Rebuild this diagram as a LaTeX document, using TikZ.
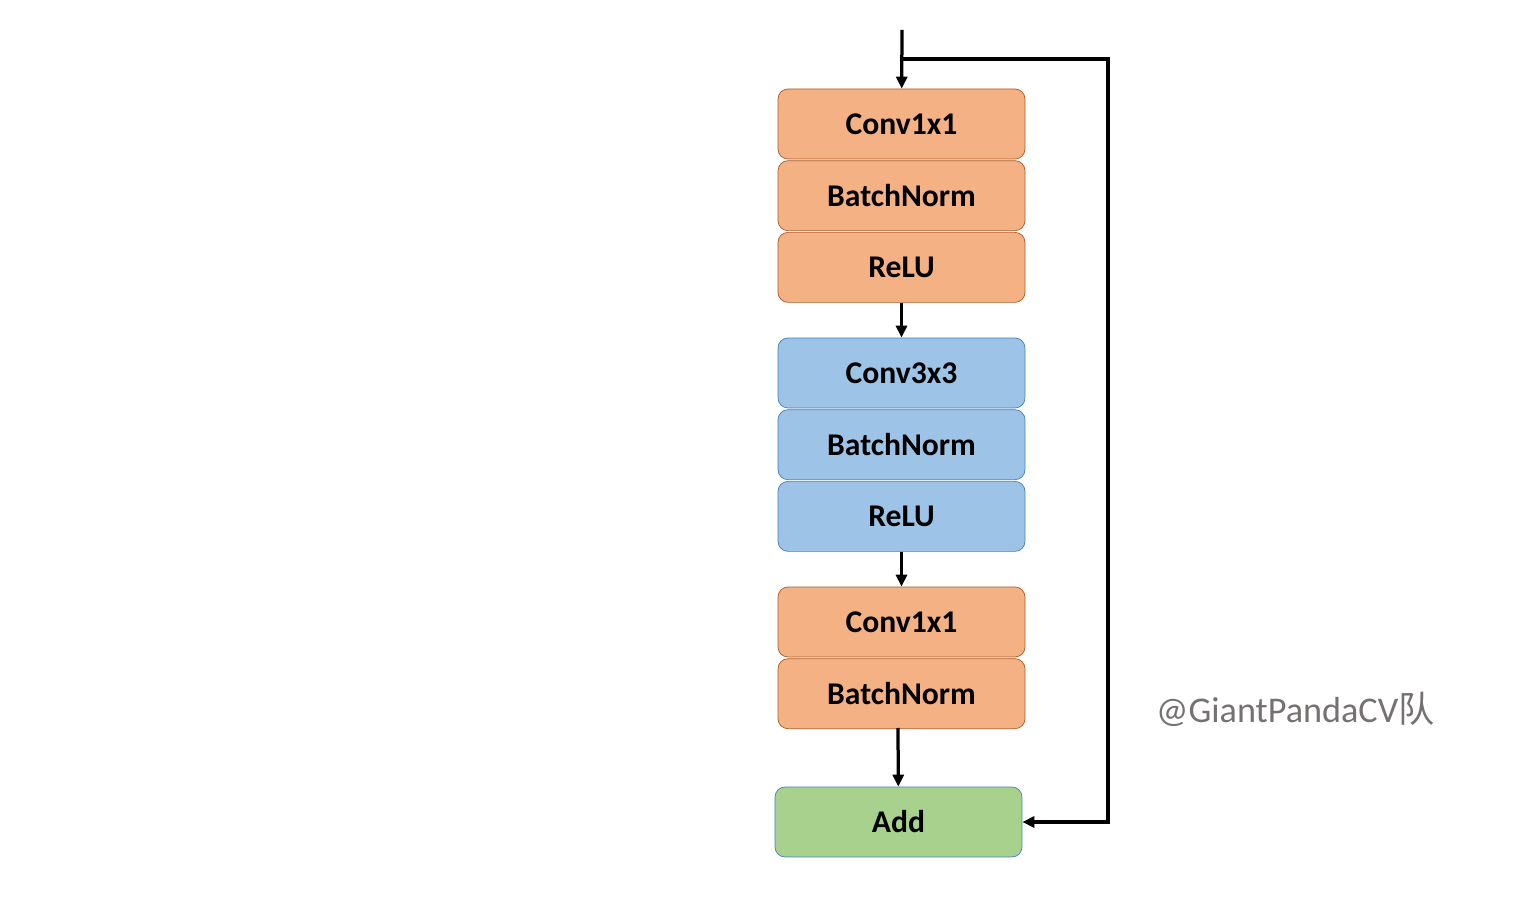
\documentclass[tikz,border=0pt]{standalone}
\usepackage{fontspec}
\setmainfont{Carlito}
\newfontfamily\cjkfont{Noto Sans CJK SC}
\usepackage{tikz}
\usetikzlibrary{
  arrows.meta,
  chains,
  positioning,
  scopes
}
\definecolor{orangefill}{HTML}{F4B183}
\definecolor{orangedraw}{HTML}{AE5A21}
\definecolor{bluefill}{HTML}{9DC3E6}
\definecolor{bluedraw}{HTML}{3F7FC0}
\definecolor{greenfill}{HTML}{A9D18E}
\definecolor{markgray}{HTML}{767171}

\begin{document}
\begin{tikzpicture}[
      x=0.02cm,y=-0.02cm,
      layer/.style={
         rectangle,
         rounded corners=0.2cm,
         minimum width=4.94cm,
         minimum height=1.4cm,
         inner sep=0pt,
         font=\fontsize{18}{20}\selectfont\bfseries,
      },
      orangelayer/.style={layer,fill=orangefill,draw=orangedraw},
      bluelayer/.style={layer,fill=bluefill,draw=bluedraw},
      greenlayer/.style={layer,fill=greenfill,draw=bluedraw},
      point/.style={coordinate},
      tip/.style={-{Triangle[length=0.24cm,width=0.22cm]},line width=0.065cm},
      every join/.style={tip},
      node distance=0.02cm
    ]
    \useasboundingbox (0,0) rectangle (1519,911);
    % bottleneck block
    \node (n1) [orangelayer] at (901.5,124) {Conv1x1};
    \node (n2) [orangelayer, below=of n1] {BatchNorm};
    \node (n3) [orangelayer, below=of n2] {ReLU};
    \node (n4) [bluelayer] at (901.5,373) {Conv3x3};
    \node (n5) [bluelayer, below=of n4] {BatchNorm};
    \node (n6) [bluelayer, below=of n5] {ReLU};
    \node (n7) [orangelayer] at (901.5,622) {Conv1x1};
    \node (n8) [orangelayer, below=of n7] {BatchNorm};
    \node (n9) [greenlayer] at (898.5,822) {Add};
    % input and shortcut
    \node (n0) [point] at (902,30) {};
    \node (j1) [point] at (902,59) {};
    \node (j2) [point] at (1108,59) {};
    \node (n8b) [point] at (898,728) {};
  { [start chain]
       \chainin (n0);
       \chainin (n1)    [join];
  }
  { [start chain]
       \chainin (n3);
       \chainin (n4)    [join];
  }
  { [start chain]
       \chainin (n6);
       \chainin (n7)    [join];
  }
    \draw [tip] (n8b) -- (n9);
    \draw [tip, line join=miter] (j1) -- (j2) |- (n9.east);
    % watermark
    \node (wm) [text=markgray, font=\fontsize{20.6}{24}\selectfont, anchor=west]
       at (1150,709) {@GiantPandaCV{\cjkfont 队}};
\end{tikzpicture}
\end{document}
